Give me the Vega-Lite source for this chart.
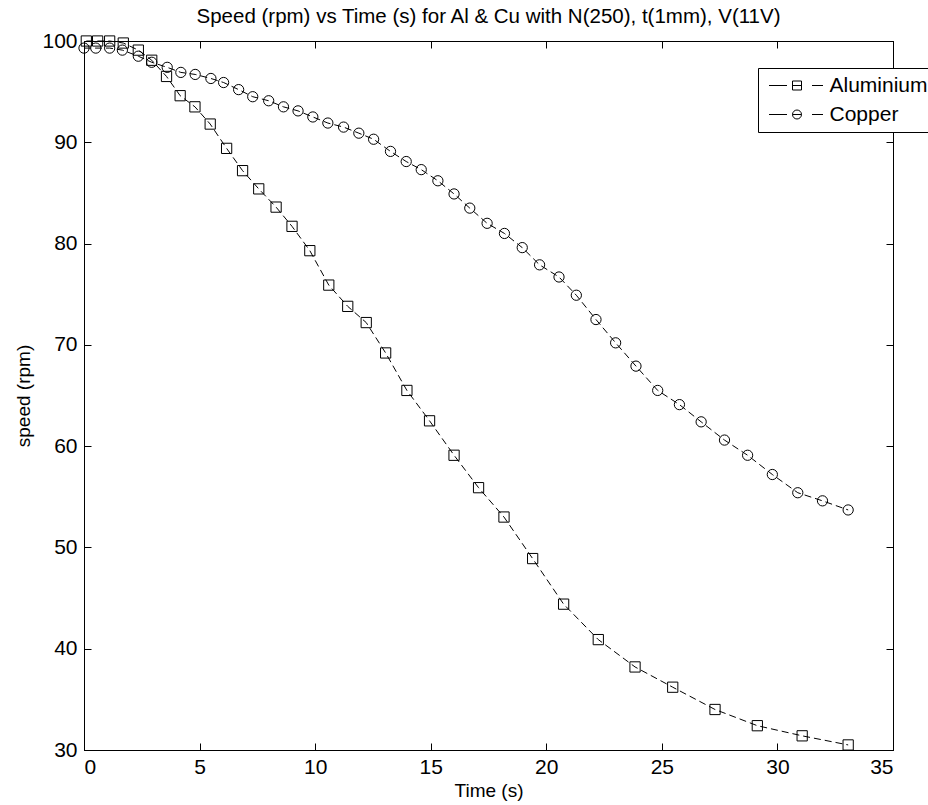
{
  "$schema": "https://vega.github.io/schema/vega-lite/v6.json",
  "autosize": {"type": "none"},
  "width": 809,
  "height": 709,
  "padding": {"left": 84, "top": 41, "right": 35, "bottom": 55},
  "background": "white",
  "title": {
    "text": "Speed (rpm) vs Time (s) for Al & Cu with N(250), t(1mm), V(11V)",
    "anchor": "middle",
    "baseline": "alphabetic",
    "offset": 14,
    "dy": 27,
    "font": "Liberation Sans",
    "fontSize": 20.5,
    "fontWeight": "normal",
    "color": "black"
  },
  "data": {
    "values": [
      {"series": "Aluminium", "t": 0.1, "v": 100.0},
      {"series": "Aluminium", "t": 0.59, "v": 100.0},
      {"series": "Aluminium", "t": 1.11, "v": 100.0},
      {"series": "Aluminium", "t": 1.7, "v": 99.8},
      {"series": "Aluminium", "t": 2.35, "v": 99.1},
      {"series": "Aluminium", "t": 2.93, "v": 98.1},
      {"series": "Aluminium", "t": 3.57, "v": 96.5},
      {"series": "Aluminium", "t": 4.16, "v": 94.6},
      {"series": "Aluminium", "t": 4.8, "v": 93.5},
      {"series": "Aluminium", "t": 5.46, "v": 91.8},
      {"series": "Aluminium", "t": 6.17, "v": 89.4},
      {"series": "Aluminium", "t": 6.86, "v": 87.2},
      {"series": "Aluminium", "t": 7.56, "v": 85.4},
      {"series": "Aluminium", "t": 8.31, "v": 83.6},
      {"series": "Aluminium", "t": 9.0, "v": 81.7},
      {"series": "Aluminium", "t": 9.77, "v": 79.3},
      {"series": "Aluminium", "t": 10.59, "v": 75.9},
      {"series": "Aluminium", "t": 11.41, "v": 73.8},
      {"series": "Aluminium", "t": 12.21, "v": 72.2},
      {"series": "Aluminium", "t": 13.05, "v": 69.2},
      {"series": "Aluminium", "t": 13.97, "v": 65.5},
      {"series": "Aluminium", "t": 14.95, "v": 62.5},
      {"series": "Aluminium", "t": 16.01, "v": 59.1},
      {"series": "Aluminium", "t": 17.07, "v": 55.9},
      {"series": "Aluminium", "t": 18.17, "v": 53.0},
      {"series": "Aluminium", "t": 19.41, "v": 48.9},
      {"series": "Aluminium", "t": 20.75, "v": 44.4},
      {"series": "Aluminium", "t": 22.25, "v": 40.9},
      {"series": "Aluminium", "t": 23.84, "v": 38.2},
      {"series": "Aluminium", "t": 25.47, "v": 36.2},
      {"series": "Aluminium", "t": 27.3, "v": 34.0},
      {"series": "Aluminium", "t": 29.13, "v": 32.4},
      {"series": "Aluminium", "t": 31.07, "v": 31.4},
      {"series": "Aluminium", "t": 33.06, "v": 30.5},
      {"series": "Copper", "t": 0.0, "v": 99.3},
      {"series": "Copper", "t": 0.51, "v": 99.3},
      {"series": "Copper", "t": 1.11, "v": 99.3},
      {"series": "Copper", "t": 1.66, "v": 99.1},
      {"series": "Copper", "t": 2.35, "v": 98.5},
      {"series": "Copper", "t": 2.93, "v": 97.9},
      {"series": "Copper", "t": 3.6, "v": 97.4},
      {"series": "Copper", "t": 4.19, "v": 96.9},
      {"series": "Copper", "t": 4.81, "v": 96.7},
      {"series": "Copper", "t": 5.49, "v": 96.3},
      {"series": "Copper", "t": 6.04, "v": 95.9},
      {"series": "Copper", "t": 6.69, "v": 95.2},
      {"series": "Copper", "t": 7.3, "v": 94.5},
      {"series": "Copper", "t": 7.99, "v": 94.1},
      {"series": "Copper", "t": 8.63, "v": 93.5},
      {"series": "Copper", "t": 9.26, "v": 93.1},
      {"series": "Copper", "t": 9.9, "v": 92.5},
      {"series": "Copper", "t": 10.55, "v": 91.9},
      {"series": "Copper", "t": 11.23, "v": 91.5},
      {"series": "Copper", "t": 11.89, "v": 90.9},
      {"series": "Copper", "t": 12.53, "v": 90.3},
      {"series": "Copper", "t": 13.26, "v": 89.1},
      {"series": "Copper", "t": 13.94, "v": 88.1},
      {"series": "Copper", "t": 14.59, "v": 87.3},
      {"series": "Copper", "t": 15.31, "v": 86.2},
      {"series": "Copper", "t": 16.01, "v": 84.9},
      {"series": "Copper", "t": 16.69, "v": 83.5},
      {"series": "Copper", "t": 17.44, "v": 82.0},
      {"series": "Copper", "t": 18.19, "v": 81.0},
      {"series": "Copper", "t": 18.96, "v": 79.6},
      {"series": "Copper", "t": 19.71, "v": 77.9},
      {"series": "Copper", "t": 20.55, "v": 76.7},
      {"series": "Copper", "t": 21.3, "v": 74.9},
      {"series": "Copper", "t": 22.15, "v": 72.5},
      {"series": "Copper", "t": 23.0, "v": 70.2},
      {"series": "Copper", "t": 23.88, "v": 67.9},
      {"series": "Copper", "t": 24.82, "v": 65.5},
      {"series": "Copper", "t": 25.76, "v": 64.1},
      {"series": "Copper", "t": 26.7, "v": 62.4},
      {"series": "Copper", "t": 27.71, "v": 60.6},
      {"series": "Copper", "t": 28.71, "v": 59.1},
      {"series": "Copper", "t": 29.78, "v": 57.2},
      {"series": "Copper", "t": 30.88, "v": 55.4},
      {"series": "Copper", "t": 31.95, "v": 54.6},
      {"series": "Copper", "t": 33.06, "v": 53.7}
    ]
  },
  "layer": [
    {
      "mark": {"type": "line", "color": "black", "strokeWidth": 1, "strokeDash": [7, 4]},
      "encoding": {
        "x": {
          "field": "t", "type": "quantitative",
          "scale": {"domain": [0, 35], "nice": false, "zero": false},
          "axis": {
            "orient": "bottom",
            "title": "Time (s)",
            "values": [0, 5, 10, 15, 20, 25, 30, 35],
            "tickSize": -7,
            "labelPadding": 13,
            "titleY": 46,
            "titleBaseline": "alphabetic"
          }
        },
        "y": {
          "field": "v", "type": "quantitative",
          "scale": {"domain": [30, 100], "nice": false, "zero": false},
          "axis": {
            "orient": "left",
            "title": "speed (rpm)",
            "values": [30, 40, 50, 60, 70, 80, 90, 100],
            "tickSize": -7,
            "labelPadding": 14,
            "titleX": -61,
            "titleBaseline": "middle"
          }
        },
        "detail": {"field": "series", "type": "nominal"}
      }
    },
    {
      "mark": {"type": "point", "filled": false, "stroke": "black", "strokeWidth": 1, "opacity": 1},
      "encoding": {
        "x": {"field": "t", "type": "quantitative", "axis": null},
        "y": {"field": "v", "type": "quantitative", "axis": null},
        "shape": {
          "field": "series", "type": "nominal",
          "scale": {"domain": ["Aluminium", "Copper"], "range": ["square", "circle"]},
          "legend": null
        },
        "size": {"value": 105}
      }
    },
    {
      "mark": {"type": "point", "filled": false, "stroke": "black", "strokeWidth": 1, "opacity": 0},
      "encoding": {
        "x": {
          "field": "t", "type": "quantitative",
          "axis": {"orient": "top", "title": null, "labels": false, "values": [0, 5, 10, 15, 20, 25, 30, 35], "tickSize": -7}
        },
        "y": {
          "field": "v", "type": "quantitative",
          "axis": {"orient": "right", "title": null, "labels": false, "values": [30, 40, 50, 60, 70, 80, 90, 100], "tickSize": -7}
        },
        "shape": {
          "field": "series", "type": "nominal",
          "scale": {
            "domain": ["Aluminium", "Copper"],
            "range": [
              "M-2.8,0H-1M-0.45,-0.45H0.45V0.45H-0.45ZM-0.45,0H0.45M1.5,0H2.6",
              "M-2.8,0H-1M-0.45,0A0.45,0.45 0 1,0 0.45,0A0.45,0.45 0 1,0 -0.45,0M-0.45,0H0.45M1.5,0H2.6"
            ]
          },
          "legend": {
            "title": null,
            "orient": "none",
            "legendX": 674,
            "legendY": 27,
            "padding": 7,
            "strokeColor": "black",
            "fillColor": "white",
            "cornerRadius": 0,
            "symbolSize": 400,
            "symbolStrokeWidth": 1,
            "symbolStrokeColor": "black",
            "symbolFillColor": "transparent",
            "symbolOpacity": 1,
            "symbolOffset": 21.5,
            "labelOffset": 22,
            "labelFont": "Liberation Sans",
            "labelFontSize": 21,
            "labelColor": "black",
            "rowPadding": 7
          }
        },
        "size": {"value": 400}
      }
    }
  ],
  "resolve": {"axis": {"x": "independent", "y": "independent"}, "scale": {"shape": "independent"}},
  "config": {
    "view": {"stroke": "black", "strokeWidth": 1},
    "axis": {
      "grid": false,
      "domainColor": "black",
      "domainWidth": 1,
      "tickColor": "black",
      "tickWidth": 1,
      "labelFont": "Liberation Sans",
      "labelFontSize": 21,
      "labelColor": "black",
      "titleFont": "Liberation Sans",
      "titleFontSize": 19,
      "titleFontWeight": "normal",
      "titleColor": "black"
    }
  }
}
